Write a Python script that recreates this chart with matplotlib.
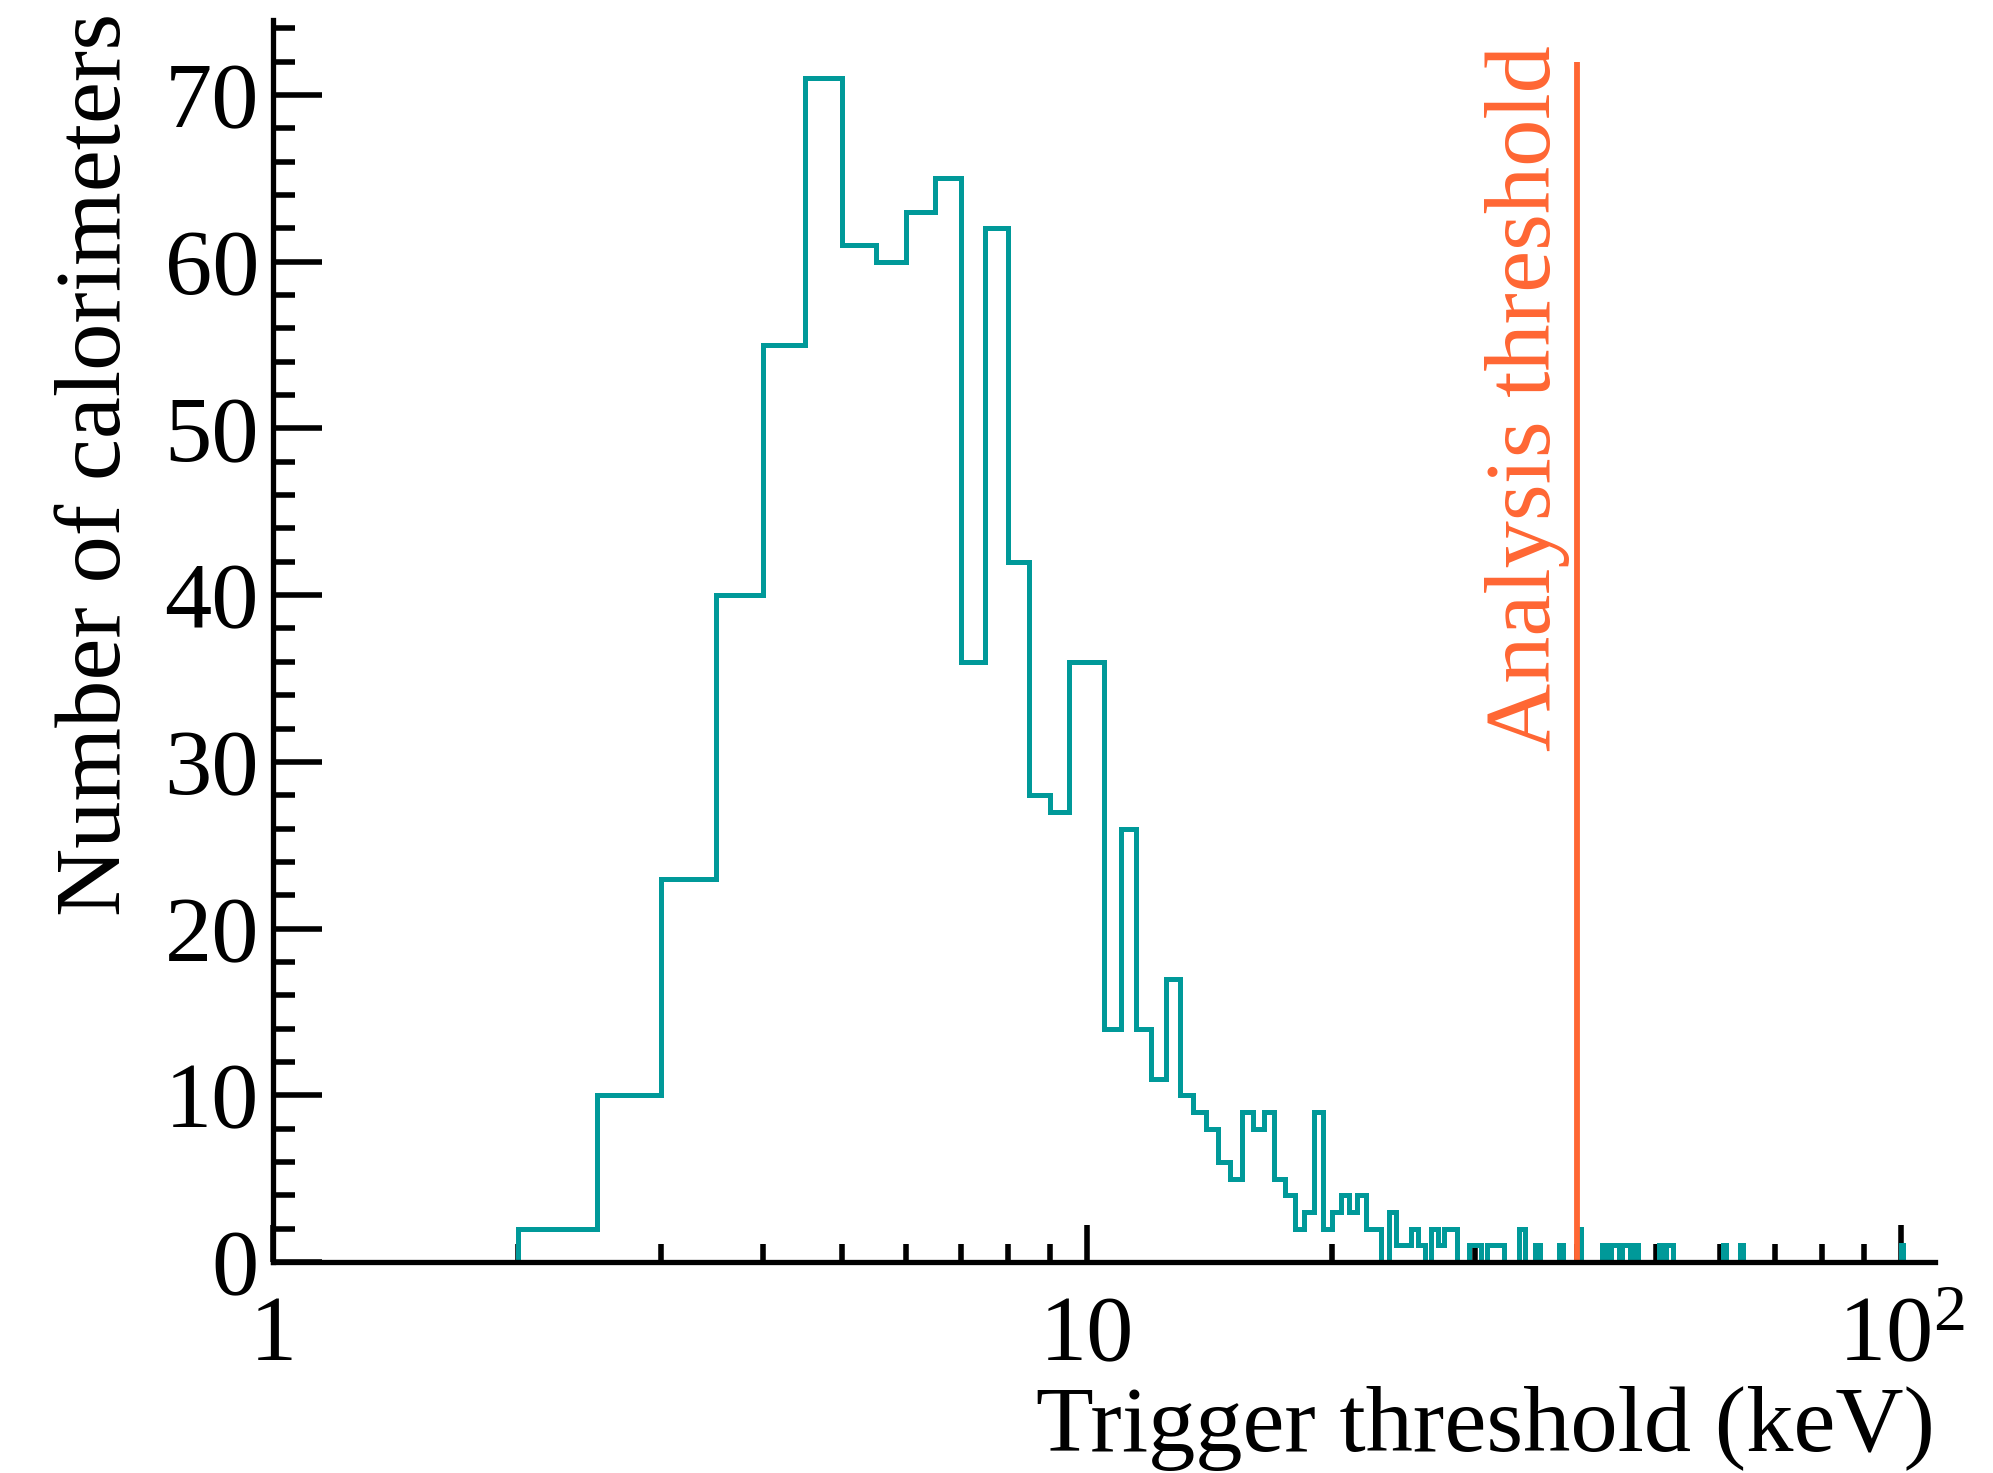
import numpy as np
import matplotlib
matplotlib.use("Agg")
import matplotlib.pyplot as plt
from matplotlib.ticker import FixedLocator, FixedFormatter, MultipleLocator, NullFormatter, LogLocator

# ---------------- data ----------------
bin_start = 2.0
bin_width = 0.5
bin_stop = 100.5

# counts of bins 2.0-2.5, 2.5-3.0, ... , 24.5-25.0
main_counts = [2, 10, 23, 40, 55, 71, 61, 60, 63, 65,
               36, 62, 42, 28, 27, 36, 36, 14, 26, 14,
               11, 17, 10, 9, 8, 6, 5, 9, 8, 9,
               5, 4, 2, 3, 9, 2, 3, 4, 3, 4,
               2, 2, 0, 3, 1, 1]

# sparse tail (lower bin edge in keV, count); other tail bins are empty
tail_bin_lo = [25.0, 25.5, 26.5, 27.0, 27.5, 28.0, 29.5, 30.0, 31.0, 31.5,
               32.0, 34.0, 35.5, 38.0, 40.0, 43.0, 44.0, 44.5, 45.5, 46.0,
               47.0, 50.5, 51.5, 52.0, 60.5, 63.5, 100.0]
tail_counts = [2, 1, 2, 1, 2, 2, 1, 1, 1, 1,
               1, 2, 1, 1, 2, 1, 1, 1, 1, 1,
               1, 1, 1, 1, 1, 1, 1]

threshold_keV = 40.0
threshold_top = 72.0

x_ticks = [1, 10, 100]
x_tick_labels = ["1", "10", r"$\mathregular{10^{2}}$"]
y_ticks = [0, 10, 20, 30, 40, 50, 60, 70]

x_label = "Trigger threshold (keV)"
y_label = "Number of calorimeters"
threshold_label = "Analysis threshold"

# ---------------- build histogram ----------------
edges = np.arange(bin_start, bin_stop + bin_width / 2, bin_width)
counts = np.zeros(len(edges) - 1)
counts[:len(main_counts)] = main_counts
for lo, c in zip(tail_bin_lo, tail_counts):
    counts[int(round((lo - bin_start) / bin_width))] = c

# ---------------- style ----------------
plt.rcParams['font.family'] = ['Liberation Serif', 'DejaVu Serif']
plt.rcParams['mathtext.default'] = 'regular'

teal = '#009999'
orange = '#FF6633'
FS = 68

fig = plt.figure(figsize=(19.93, 14.73), dpi=100)
ax = fig.add_axes([0.13698, 0.14325, 0.83367, 0.84317])

ax.stairs(counts, edges, color=teal, linewidth=3.6, baseline=0, zorder=2)
ax.vlines(threshold_keV, 0, threshold_top, color=orange, linewidth=4.2, zorder=3)

ax.set_xscale('log')
ax.set_xlim(1, 110)
ax.set_ylim(0, 74.5)

for s in ['top', 'right']:
    ax.spines[s].set_visible(False)
for s in ['left', 'bottom']:
    ax.spines[s].set_linewidth(3.8)
    ax.spines[s].set_zorder(4)

ax.xaxis.set_major_locator(FixedLocator(x_ticks))
ax.xaxis.set_major_formatter(FixedFormatter(x_tick_labels))
ax.xaxis.set_minor_locator(LogLocator(base=10, subs=np.arange(2, 10)))
ax.xaxis.set_minor_formatter(NullFormatter())
ax.yaxis.set_major_locator(FixedLocator(y_ticks))
ax.yaxis.set_minor_locator(MultipleLocator(2))

ax.tick_params(axis='x', which='major', direction='in', length=27, width=4, pad=24, labelsize=FS)
ax.tick_params(axis='x', which='minor', direction='in', length=13, width=4)
ax.tick_params(axis='y', which='major', direction='in', length=35, width=4, pad=10, labelsize=FS)
ax.tick_params(axis='y', which='minor', direction='in', length=16, width=4)
ax.tick_params(top=False, right=False, which='both')

fig.text(1935 / 1993, 1 - 1451 / 1473, x_label, ha='right', va='baseline', fontsize=FS)
fig.text(120 / 1993, 1 - 13 / 1473, y_label, rotation=90, rotation_mode='anchor',
         ha='right', va='baseline', fontsize=FS)
fig.text(1550 / 1993, 1 - 45 / 1473, threshold_label, rotation=90, rotation_mode='anchor',
         ha='right', va='baseline', fontsize=FS, color=orange)

fig.savefig('out.png', dpi=100)
